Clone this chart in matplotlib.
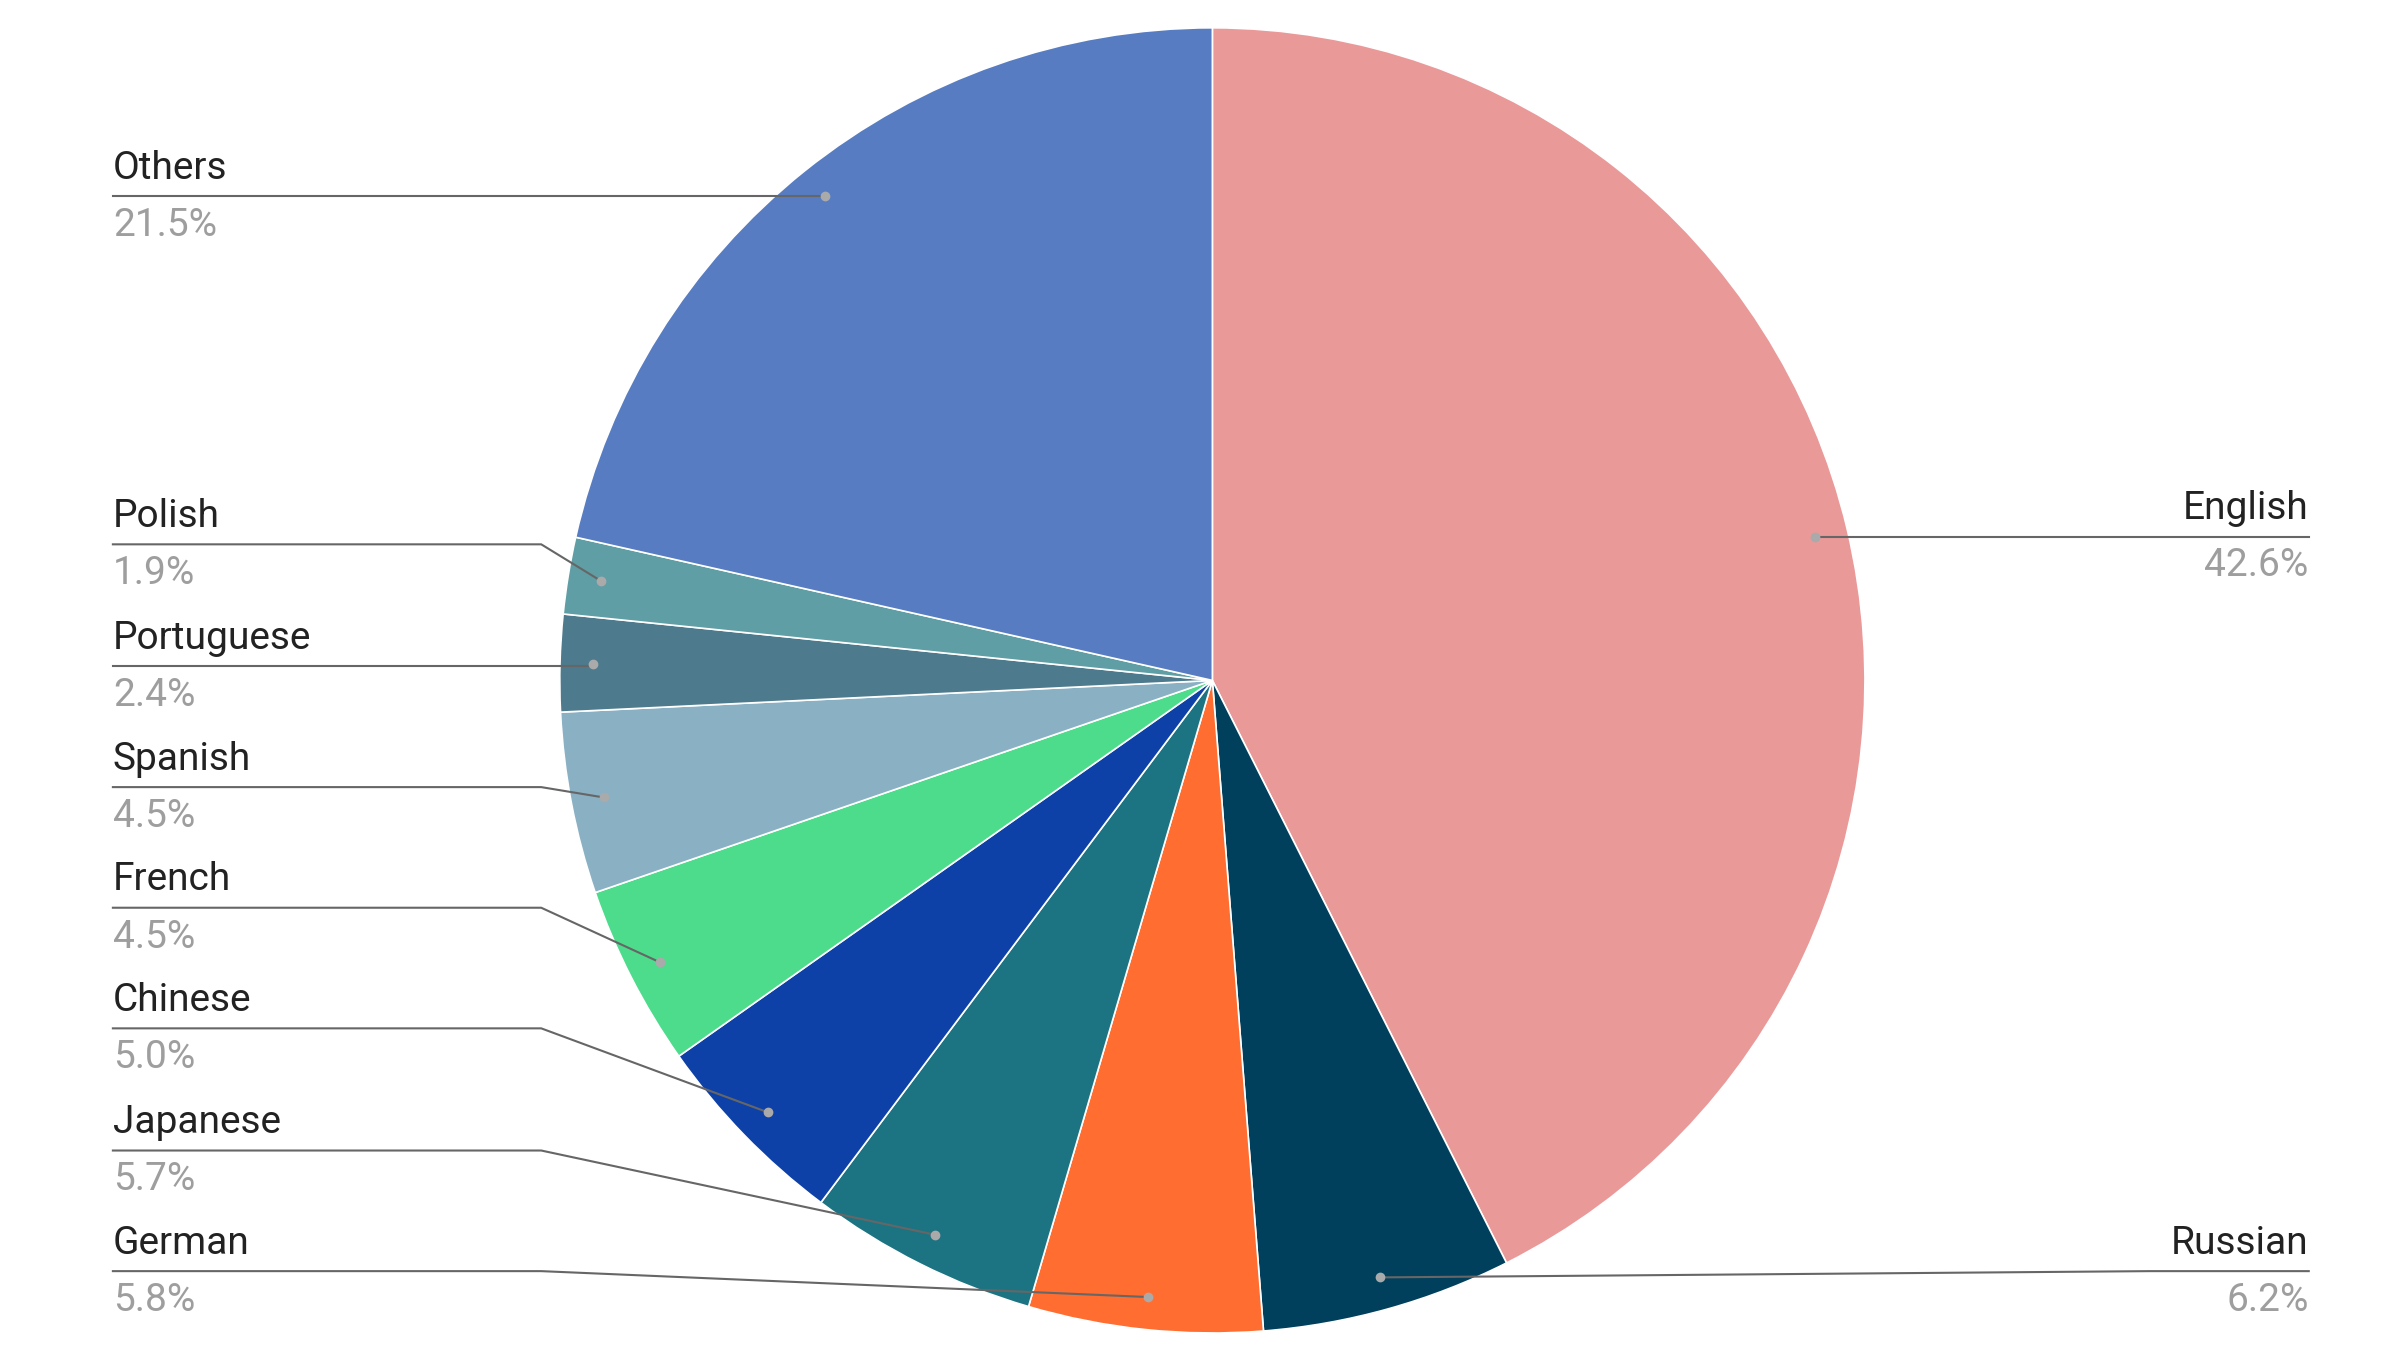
import matplotlib
matplotlib.use('Agg')
import matplotlib.pyplot as plt
import numpy as np

# share of content by language (%), clockwise from 12 o'clock
languages = ['English', 'Russian', 'German', 'Japanese', 'Chinese',
             'French', 'Spanish', 'Portuguese', 'Polish', 'Others']
shares = [42.6, 6.2, 5.8, 5.7, 5.0, 4.5, 4.5, 2.4, 1.9, 21.5]
colors = ['#ea9999', '#00405c', '#ff6d31', '#1c7482', '#0e41a8',
          '#4cdc8b', '#8ab0c4', '#4d7a8c', '#5f9ea5', '#577cc1']

# label rows (in a 1552x873 canvas space): line y
label_y = {'Others': 127, 'Polish': 352, 'Portuguese': 431, 'Spanish': 509,
           'French': 587, 'Chinese': 665, 'Japanese': 744, 'German': 822,
           'English': 347, 'Russian': 822}
right_side = {'English', 'Russian'}

W, H = 1552, 873
cx, cy, R = 784, 440, 422

fig = plt.figure(figsize=(24, 13.5), dpi=100)
ax = fig.add_axes([0, 0, 1, 1])

# y axis points down, so mirror start angle and direction
wedges, _ = ax.pie(shares, colors=colors, startangle=-90, counterclock=True,
                   center=(cx, cy), radius=R, normalize=True,
                   wedgeprops=dict(edgecolor='white', linewidth=1.2))
ax.set_xlim(0, W)
ax.set_ylim(H, 0)
ax.set_aspect('auto')
ax.axis('off')

fs = 28
for w, name, val in zip(wedges, languages, shares):
    mid = np.deg2rad((w.theta1 + w.theta2) / 2)
    dx = cx + 0.95 * R * np.cos(mid)
    dy = cy + 0.95 * R * np.sin(mid)
    ly = label_y[name]
    if name in right_side:
        x0, x1 = 1493, 1390
        ha = 'right'
    else:
        x0, x1 = 73, 350
        ha = 'left'
    if abs(dy - ly) > 3:
        xs, ys = [x0, x1, dx], [ly, ly, dy]
    else:
        xs, ys = [x0, dx], [ly, ly]
    ax.plot(xs, ys, color='#666666', lw=1.5, zorder=3)
    ax.text(x0, ly - 6, name, ha=ha, va='bottom', fontsize=fs,
            family='Roboto', color='#222222')
    ax.text(x0, ly + 7, f'{val:.1f}%', ha=ha, va='top', fontsize=fs,
            family='Roboto', color='#9e9e9e')
    ax.plot(dx, dy, 'o', color='#aaaaaa', ms=6, zorder=4)

fig.savefig('out.png', dpi=100)
